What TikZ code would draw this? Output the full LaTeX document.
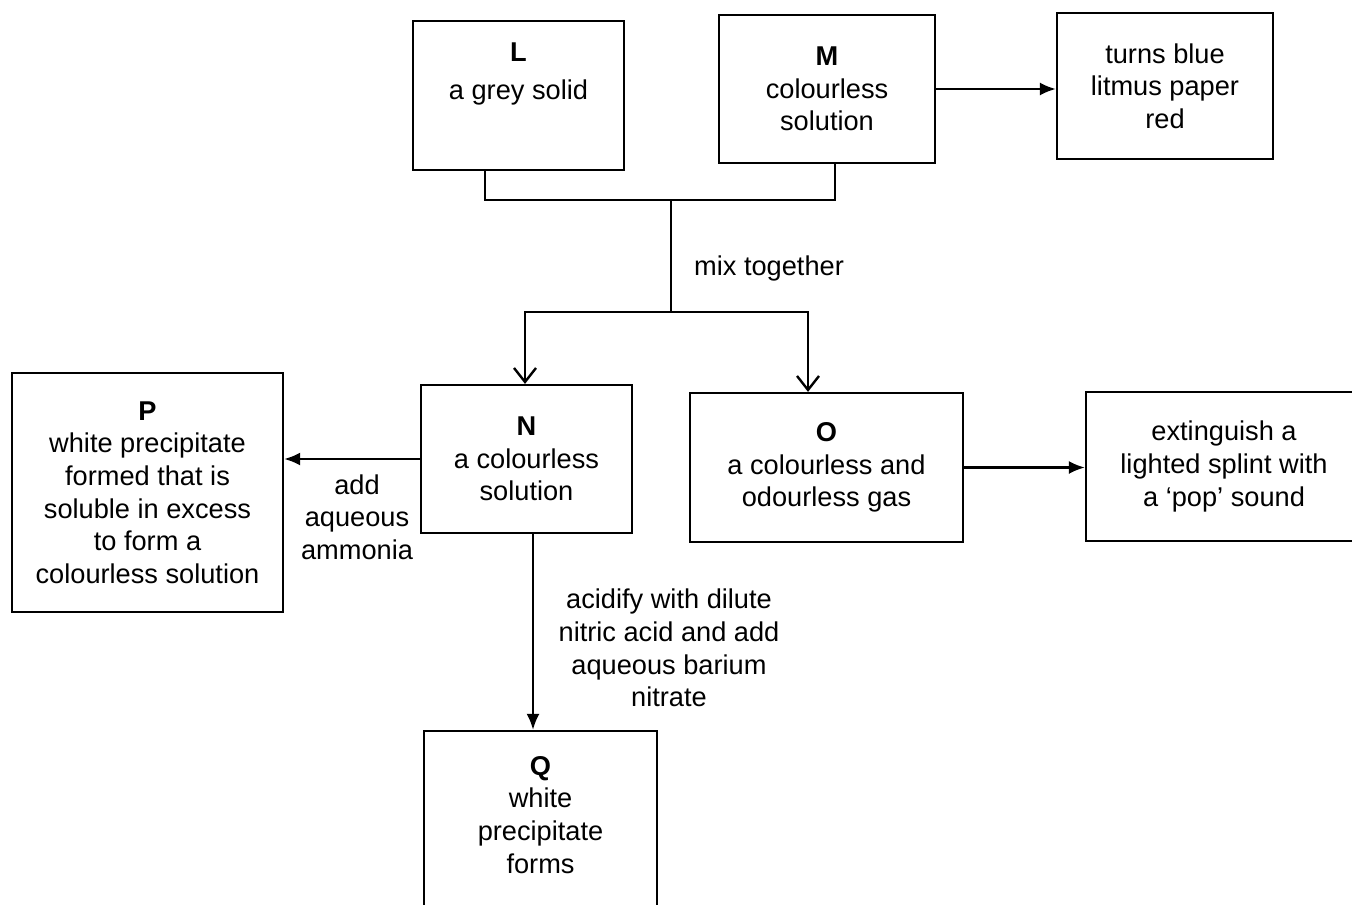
\documentclass[tikz,border=0pt]{standalone}
\usepackage{fontspec}
\setmainfont{Liberation Sans}
\usetikzlibrary{arrows.meta}

\begin{document}
\begin{tikzpicture}[x=0.5pt,y=-0.5pt,
	chembox/.style={draw, line width=1.1pt, align=center, inner sep=0pt, font=\fontsize{13.6}{16.3}\selectfont},
	steplbl/.style={align=center, inner sep=0pt, font=\fontsize{13.6}{16.3}\selectfont},
	wire/.style={line width=1.2pt},
	headarrow/.style={-{Latex[length=8pt,width=6.5pt]}},
	openarrow/.style={-{Straight Barb[length=7pt,width=11pt]}}]
	\useasboundingbox (0,0) rectangle (1352,904);
	\node[chembox, minimum width=105.5pt, minimum height=74.5pt] (L) at (518.5,95.5) {\textbf{L}\\[2.5pt]a grey solid\\\mbox{}\\[-8pt]};
	\node[chembox, minimum width=108pt, minimum height=74pt] (M) at (827,89) {\textbf{M}\\colourless\\solution};
	\node[chembox, minimum width=108pt, minimum height=73pt] (litmus) at (1165,86) {turns blue\\litmus paper\\red};
	\node[chembox, minimum width=105.5pt, minimum height=74pt] (N) at (526.5,459) {\textbf{N}\\a colourless\\solution};
	\node[chembox, minimum width=136.5pt, minimum height=74.5pt] (O) at (826.5,467.5) {\textbf{O}\\a colourless and\\odourless gas};
	\node[chembox, minimum width=138pt, minimum height=74.5pt] (splint) at (1224,466.5) {extinguish a\\lighted splint with\\a ‘pop’ sound};
	\node[chembox, minimum width=135.5pt, minimum height=119.5pt] (P) at (147.5,492.5) {\textbf{P}\\white precipitate\\formed that is\\soluble in excess\\to form a\\colourless solution};
	\node[chembox, minimum width=116.5pt, minimum height=100pt] (Q) at (540.5,831) {\textbf{Q}\\white\\precipitate\\forms\\\mbox{}};
	\coordinate (jL) at (485,200);
	\coordinate (jM) at (835,200);
	\coordinate (mix) at (671,200);
	\coordinate (split) at (671,312);
	\coordinate (toN) at (525,312);
	\coordinate (toO) at (808,312);
	\coordinate (toQ) at (533,600);
	\draw[wire] (L.south -| jL) -- (jL) -- (jM) -- (M.south -| jM);
	\draw[wire] (mix) -- (split);
	\draw[wire, openarrow] (split) -- (toN) -- (N.north -| toN);
	\draw[wire, openarrow] (split) -- (toO) -- (O.north -| toO);
	\draw[wire, headarrow] (M.east) -- (M.east -| litmus.west);
	\draw[wire, headarrow] (N.west) -- (N.west -| P.east);
	\draw[wire, headarrow] (O.east) -- (O.east -| splint.west);
	\draw[wire, headarrow] (N.south -| toQ) -- (Q.north -| toQ);
	\node[steplbl] (mixlbl) at (769,268) {mix together};
	\node[steplbl] (ammonia) at (357,517) {add\\aqueous\\ammonia};
	\node[steplbl] (acidify) at (669,648) {acidify with dilute\\nitric acid and add\\aqueous barium\\nitrate};
\end{tikzpicture}
\end{document}
